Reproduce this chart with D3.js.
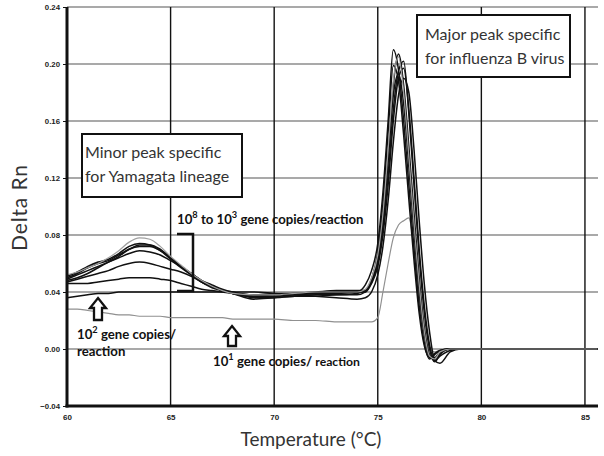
<!DOCTYPE html>
<html>
<head>
<meta charset="utf-8">
<script src="https://cdn.jsdelivr.net/npm/d3@7"></script>
<style>
  html, body { margin: 0; padding: 0; background: #fff; }
  svg { display: block; }
</style>
</head>
<body>
<svg id="chart" width="604" height="456"></svg>
<script>
// ---------- data ----------
const temperature = [60,60.5,61,61.5,62,62.5,63,63.5,64,64.5,65,65.5,66,66.5,67,67.5,68,
  69,70,71,72,73,74,
  74.4,74.7,75,75.25,75.5,75.75,76,76.25,76.5,76.75,77,77.25,77.5,77.75,78,78.5,79,80,82,84,85.6];

// 10^8 to 10^3 gene copies/reaction (replicates)
const highA = [0.052,0.054,0.057,0.060,0.064,0.069,0.075,0.078,0.077,0.072,0.065,0.059,0.053,0.048,0.044,0.041,0.039,
  0.038,0.038,0.039,0.040,0.040,0.040,
  0.042,0.050,0.066,0.095,0.140,0.188,0.205,0.180,0.135,0.088,0.045,0.012,-0.005,-0.007,-0.002,0,0,0,0,0,0];
const highB = [0.051,0.054,0.058,0.061,0.063,0.067,0.072,0.074,0.073,0.069,0.063,0.057,0.052,0.047,0.043,0.041,0.039,
  0.037,0.037,0.038,0.039,0.039,0.040,
  0.045,0.055,0.074,0.110,0.160,0.210,0.196,0.160,0.115,0.070,0.030,0.004,-0.007,-0.004,-0.001,0,0,0,0,0,0];
const highC = [0.050,0.053,0.057,0.060,0.062,0.066,0.070,0.073,0.073,0.070,0.064,0.058,0.052,0.047,0.044,0.041,0.040,
  0.036,0.036,0.037,0.038,0.038,0.039,
  0.041,0.049,0.064,0.092,0.135,0.185,0.207,0.185,0.142,0.095,0.050,0.015,-0.004,-0.008,-0.003,0,0,0,0,0,0];
const highD = [0.049,0.052,0.055,0.058,0.061,0.064,0.067,0.069,0.068,0.066,0.062,0.058,0.053,0.048,0.045,0.042,0.040,
  0.038,0.039,0.039,0.040,0.041,0.041,
  0.041,0.047,0.060,0.085,0.122,0.168,0.195,0.202,0.165,0.115,0.065,0.025,0.000,-0.009,-0.004,0,0,0,0,0,0];
const highE = [0.047,0.049,0.051,0.053,0.055,0.058,0.060,0.061,0.060,0.058,0.056,0.054,0.051,0.047,0.044,0.041,0.039,
  0.037,0.038,0.038,0.039,0.040,0.040,
  0.040,0.046,0.058,0.080,0.115,0.160,0.190,0.197,0.168,0.120,0.070,0.030,0.003,-0.008,-0.005,-0.001,0,0,0,0,0];
const highF = [0.046,0.046,0.046,0.047,0.048,0.049,0.050,0.050,0.050,0.049,0.048,0.046,0.044,0.042,0.041,0.040,0.039,
  0.038,0.038,0.039,0.039,0.040,0.040,
  0.041,0.048,0.062,0.090,0.132,0.178,0.193,0.172,0.128,0.082,0.040,0.010,-0.006,-0.006,-0.002,0,0,0,0,0,0];
const highG = [0.048,0.050,0.053,0.057,0.061,0.065,0.070,0.072,0.072,0.069,0.064,0.058,0.053,0.048,0.044,0.041,0.039,
  0.035,0.036,0.037,0.037,0.038,0.038,
  0.040,0.049,0.068,0.102,0.152,0.199,0.188,0.150,0.105,0.062,0.025,0.002,-0.006,-0.003,-0.001,0,0,0,0,0,0];
// 10^2 gene copies/reaction
const copies1e2 = [0.036,0.037,0.038,0.039,0.039,0.040,0.040,0.040,0.040,0.040,0.040,0.040,0.040,0.040,0.040,0.040,0.040,
  0.040,0.039,0.038,0.037,0.036,0.035,
  0.036,0.040,0.052,0.072,0.104,0.145,0.178,0.190,0.180,0.140,0.090,0.045,0.012,-0.008,-0.010,-0.002,0,0,0,0,0];
// 10^1 gene copies/reaction
const copies1e1 = [0.028,0.028,0.027,0.026,0.025,0.024,0.024,0.023,0.023,0.023,0.022,0.022,0.022,0.022,0.022,0.022,0.021,
  0.021,0.021,0.020,0.020,0.019,0.019,
  0.019,0.019,0.022,0.040,0.060,0.078,0.087,0.090,0.092,0.070,0.035,0.010,0.000,-0.002,-0.001,0,0,0,0,0,0];

const xTicks = [60,65,70,75,80,85];
const yTicks = [-0.04,0.00,0.04,0.08,0.12,0.16,0.20,0.24];

const seriesList = [
  {name:"1e1", values: copies1e1, color:"#909090", width:1.2},
  {name:"1e2", values: copies1e2, color:"#111", width:1.5},
  {name:"F", values: highF, color:"#111", width:1.5},
  {name:"E", values: highE, color:"#111", width:1.5},
  {name:"D", values: highD, color:"#111", width:1.5},
  {name:"C", values: highC, color:"#111", width:1.5},
  {name:"G", values: highG, color:"#111", width:1.5},
  {name:"B", values: highB, color:"#111", width:1.5},
  {name:"A", values: highA, color:"#a0a0a0", width:1.2}
];

// ---------- drawing ----------
const svg = d3.select("#chart");
const pLeft = 67, pRight = 598, pTop = 7, pBottom = 406;
const x = d3.scaleLinear().domain([60, 85.63]).range([pLeft, pRight]);
const y = d3.scaleLinear().domain([-0.04, 0.24]).range([pBottom, pTop]);

// horizontal grid
svg.append("g").selectAll("line").data(yTicks.filter(d => d > -0.04)).join("line")
  .attr("x1", pLeft).attr("x2", pRight)
  .attr("y1", d => y(d)).attr("y2", d => y(d))
  .attr("stroke", "#555").attr("stroke-width", 1.1);
// vertical grid
svg.append("g").selectAll("line").data(xTicks.filter(d => d > 60)).join("line")
  .attr("x1", d => x(d)).attr("x2", d => x(d))
  .attr("y1", pTop).attr("y2", pBottom)
  .attr("stroke", "#111").attr("stroke-width", 1.4);

// curves
const line = d3.line().x((d, i) => x(temperature[i])).y(d => y(d)).curve(d3.curveMonotoneX);
svg.append("g").selectAll("path").data(seriesList).join("path")
  .attr("d", s => line(s.values))
  .attr("fill", "none")
  .attr("stroke", s => s.color)
  .attr("stroke-width", s => s.width)
  .attr("stroke-linejoin", "round");

// axes
const yAxis = d3.axisLeft(y).tickValues(yTicks).tickFormat(d3.format(".2f")).tickSize(4).tickPadding(3);
const gy = svg.append("g").attr("transform", `translate(${pLeft},0)`).call(yAxis);
gy.select(".domain").remove();
gy.selectAll(".tick line").attr("stroke", "#111");
gy.selectAll("text").attr("font-family", "Liberation Sans, Arial, sans-serif")
  .attr("font-size", 7.8).attr("font-weight", "bold").attr("fill", "#222");

const xAxis = d3.axisBottom(x).tickValues(xTicks).tickFormat(d3.format("d")).tickSize(0).tickPadding(8);
const gx = svg.append("g").attr("transform", `translate(0,${pBottom})`).call(xAxis);
gx.select(".domain").remove();
gx.selectAll("text").attr("font-family", "Liberation Sans, Arial, sans-serif")
  .attr("font-size", 8).attr("font-weight", "bold").attr("fill", "#222");

// axis lines (thick)
svg.append("line").attr("x1", pLeft).attr("x2", pLeft).attr("y1", pTop).attr("y2", pBottom + 1.5)
  .attr("stroke", "#111").attr("stroke-width", 3);
svg.append("line").attr("x1", pLeft - 1.5).attr("x2", pRight).attr("y1", pBottom).attr("y2", pBottom)
  .attr("stroke", "#111").attr("stroke-width", 3);

// axis titles
svg.append("text").attr("transform", "translate(27,208) rotate(-90)")
  .attr("text-anchor", "middle").attr("font-family", "Lato, sans-serif")
  .attr("font-size", 21).attr("fill", "#333")
  .attr("textLength", 86).attr("lengthAdjust", "spacing").text("Delta Rn");
svg.append("text").attr("x", 311).attr("y", 446)
  .attr("text-anchor", "middle").attr("font-family", "Lato, sans-serif")
  .attr("font-size", 19).attr("fill", "#333").text("Temperature (°C)");

// annotation boxes
function box(x0, y0, w, h, lines, tx, ty) {
  svg.append("rect").attr("x", x0).attr("y", y0).attr("width", w).attr("height", h)
    .attr("fill", "#fff").attr("stroke", "#111").attr("stroke-width", 2);
  lines.forEach((t, i) => {
    svg.append("text").attr("x", tx).attr("y", ty + i * 24)
      .attr("font-family", "Lato, sans-serif").attr("font-size", 16).attr("fill", "#333").text(t);
  });
}
box(82, 134, 160, 63, ["Minor peak specific", "for Yamagata lineage"], 85, 158);
box(417, 15, 153, 62, ["Major peak specific", "for influenza B virus"], 425, 40);

// bold labels with superscripts
function label(xp, yp, parts, size) {
  const t = svg.append("text").attr("x", xp).attr("y", yp)
    .attr("font-family", "Lato, sans-serif").attr("font-weight", "bold")
    .attr("font-size", size).attr("fill", "#111");
  let shift = 0;
  parts.forEach(p => {
    if (p.sup) {
      t.append("tspan").attr("dy", -size * 0.42).attr("font-size", size * 0.7).text(p.sup);
      shift = size * 0.42;
    } else {
      t.append("tspan").attr("dy", shift).text(p.t);
      shift = 0;
    }
  });
  return t;
}
label(177, 224, [{t:"10"},{sup:"8"},{t:" to 10"},{sup:"3"},{t:" gene copies/reaction"}], 13.2);
label(77, 339, [{t:"10"},{sup:"2"},{t:" gene copies/"}], 13.2);
label(77, 356, [{t:"reaction"}], 13.2);
label(213, 366, [{t:"10"},{sup:"1"},{t:" gene copies/ "}], 13.2)
  .append("tspan").attr("font-size", 12.2).text("reaction");

// bracket
svg.append("path").attr("d", "M177,234 H193 V291 H177")
  .attr("fill", "none").attr("stroke", "#111").attr("stroke-width", 2.5);

// hollow up arrows
function upArrow(cx, ty, by) {
  const hw = 8, sw = 4, hh = 10;
  const p = `M${cx},${ty} L${cx + hw},${ty + hh} L${cx + sw},${ty + hh} L${cx + sw},${by} ` +
            `L${cx - sw},${by} L${cx - sw},${ty + hh} L${cx - hw},${ty + hh} Z`;
  svg.append("path").attr("d", p).attr("fill", "#fff").attr("stroke", "#111")
    .attr("stroke-width", 2.3).attr("stroke-linejoin", "miter");
}
upArrow(98, 298, 320);
upArrow(232, 326, 346);
</script>
</body>
</html>
